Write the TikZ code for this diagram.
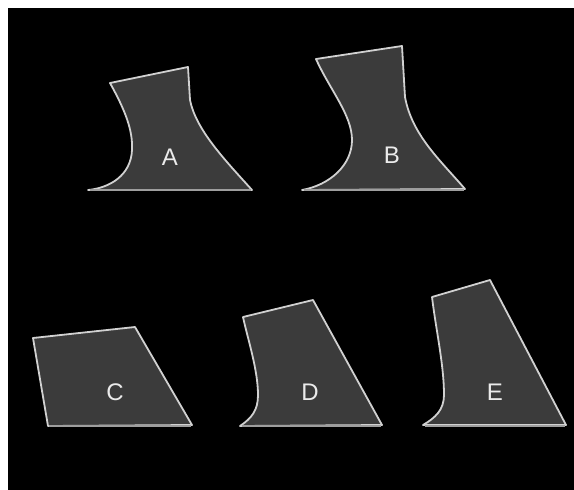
\documentclass[tikz,border=0pt]{standalone}
\usepackage{fontspec}
\setmainfont{Liberation Sans}
\begin{document}
\begin{tikzpicture}[x=1pt,y=-1pt,
  shapebody/.style={fill=black!77, draw=black!18, line width=1.8pt, line join=round},
  baseedge/.style={draw=black!38, line width=2.8pt},
  lbl/.style={text=white!92!black, font=\fontsize{24}{24}\selectfont, inner sep=0pt}]
\useasboundingbox (0,0) rectangle (574,490);
\fill[white] (0,0) rectangle (574,490);
\fill[black] (8,8) rectangle (574,490);
% A
\path[shapebody] (110,83) -- (188,67) -- (190,100) .. controls (196,130) and (225,160) .. (252,190) -- (88,190) .. controls (110,188) and (131,175) .. (132,150) .. controls (133,130) and (125,110) .. (110,83) -- cycle;
\draw[baseedge] (90,190) -- (251,190);
% B
\path[shapebody] (316,59) -- (402,46) -- (405,97) .. controls (412,135) and (440,160) .. (465,189) -- (302,190) .. controls (330,185) and (352,165) .. (352,140) .. controls (352,115) and (330,90) .. (316,59) -- cycle;
\draw[baseedge] (304,190) -- (464,190);
% C
\path[shapebody] (33,338) -- (135,327) -- (192,425) -- (48,426) -- cycle;
\draw[baseedge] (49,426) -- (191,426);
% D
\path[shapebody] (243,317) -- (313,300) -- (382,425) -- (240,426) .. controls (252,418) and (258,410) .. (258,395) .. controls (258,370) and (248,340) .. (243,317) -- cycle;
\draw[baseedge] (242,426) -- (381,426);
% E
\path[shapebody] (432,297) -- (490,280) -- (566,425) -- (423,425) .. controls (435,418) and (444,410) .. (444,395) .. controls (444,365) and (436,330) .. (432,297) -- cycle;
\draw[baseedge] (425,426) -- (565,426);
% labels
\node[lbl] (la) at (170,157) {A};
\node[lbl] (lb) at (392,155) {B};
\node[lbl] (lc) at (115,392) {C};
\node[lbl] (ld) at (310,392) {D};
\node[lbl] (le) at (495,392) {E};
\end{tikzpicture}
\end{document}
